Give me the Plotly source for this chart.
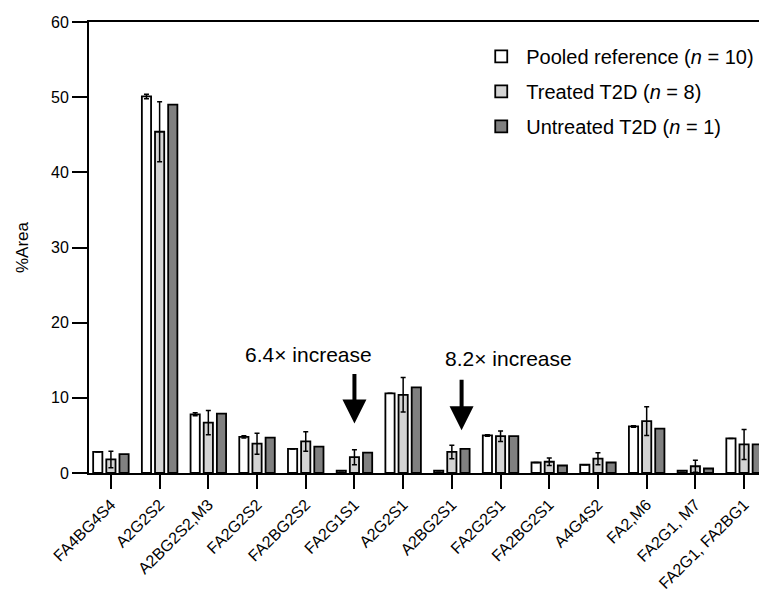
import plotly.graph_objects as go

categories = ["FA4BG4S4", "A2G2S2", "A2BG2S2,M3", "FA2G2S2", "FA2BG2S2", "FA2G1S1",
              "A2G2S1", "A2BG2S1", "FA2G2S1", "FA2BG2S1", "A4G4S2", "FA2,M6",
              "FA2G1, M7", "FA2G1, FA2BG1"]

pooled = [2.8, 50.1, 7.8, 4.8, 3.2, 0.3, 10.6, 0.3, 5.0, 1.4, 1.1, 6.2, 0.3, 4.6]
pooled_err = [0.0, 0.3, 0.2, 0.15, 0.0, 0.0, 0.0, 0.0, 0.1, 0.0, 0.0, 0.1, 0.0, 0.0]

treated = [1.8, 45.4, 6.7, 3.9, 4.2, 2.1, 10.4, 2.8, 4.9, 1.5, 1.9, 6.9, 0.9, 3.8]
treated_err = [1.1, 4.0, 1.6, 1.4, 1.3, 1.0, 2.3, 0.9, 0.7, 0.5, 0.8, 1.9, 0.8, 2.0]

untreated = [2.5, 49.0, 7.9, 4.7, 3.5, 2.7, 11.4, 3.2, 4.9, 1.0, 1.4, 5.9, 0.6, 3.8]

series_names = ["Pooled reference (<i>n</i> = 10)", "Treated T2D (<i>n</i> = 8)",
                "Untreated T2D (<i>n</i> = 1)"]
series_colors = ["#ffffff", "#d4d4d4", "#808080"]

x_idx = list(range(len(categories)))

fig = go.Figure()
for i, (vals, err) in enumerate([(pooled, pooled_err), (treated, treated_err), (untreated, None)]):
    kw = {}
    if err is not None:
        kw["error_y"] = dict(type="data", array=err, visible=True, color="black",
                             thickness=1.5, width=2.5)
    fig.add_trace(go.Bar(
        x=x_idx, y=vals, name=series_names[i], legendgroup=f"g{i}",
        marker=dict(color=series_colors[i], line=dict(color="black", width=1.8)),
        **kw))

font_family = "Liberation Sans, Arial, sans-serif"

# page body has an 8px margin: figure is sized/offset to compensate
fig.update_layout(
    width=759, height=584,
    margin=dict(l=81, r=1, t=14, b=119, autoexpand=False),
    paper_bgcolor="white", plot_bgcolor="white",
    barmode="group", bargap=0.19, bargroupgap=0.3,
    font=dict(family=font_family, size=16, color="black"),
    showlegend=True,
    legend=dict(x=0.572, y=0.967, xanchor="left", yanchor="top",
                font=dict(size=20, color="black"), tracegroupgap=6,
                bgcolor="rgba(0,0,0,0)", itemwidth=40),
    xaxis=dict(
        tickmode="array", tickvals=x_idx, ticktext=categories,
        range=[-0.45, 13.45], tickangle=-45, automargin=False,
        showline=True, linecolor="black", linewidth=2,
        ticks="outside", ticklen=14, tickwidth=2, tickcolor="black",
        tickfont=dict(size=16), showgrid=False, zeroline=False,
        mirror=True,
    ),
    yaxis=dict(
        range=[0, 60], dtick=10, tick0=0, automargin=False,
        showline=True, linecolor="black", linewidth=2,
        ticks="outside", ticklen=15, tickwidth=2, tickcolor="black",
        tickfont=dict(size=16), showgrid=False, zeroline=False,
        title=dict(text="%Area", font=dict(size=17), standoff=18),
        mirror=True,
    ),
)

annotations = [
    dict(x=4.05, y=15.7, text="6.4× increase", showarrow=False,
         font=dict(size=21, color="black"), xref="x", yref="y"),
    dict(x=8.17, y=15.3, text="8.2× increase", showarrow=False,
         font=dict(size=21, color="black"), xref="x", yref="y"),
    dict(x=5, y=6.6, text="", showarrow=True, ax=0, ay=-51,
         arrowhead=2, arrowwidth=4, arrowsize=1.2, arrowcolor="black",
         xref="x", yref="y"),
    dict(x=7.2, y=5.7, text="", showarrow=True, ax=0, ay=-52,
         arrowhead=2, arrowwidth=4, arrowsize=1.2, arrowcolor="black",
         xref="x", yref="y"),
]
fig.update_layout(annotations=annotations)

fig.write_html("out.html")
